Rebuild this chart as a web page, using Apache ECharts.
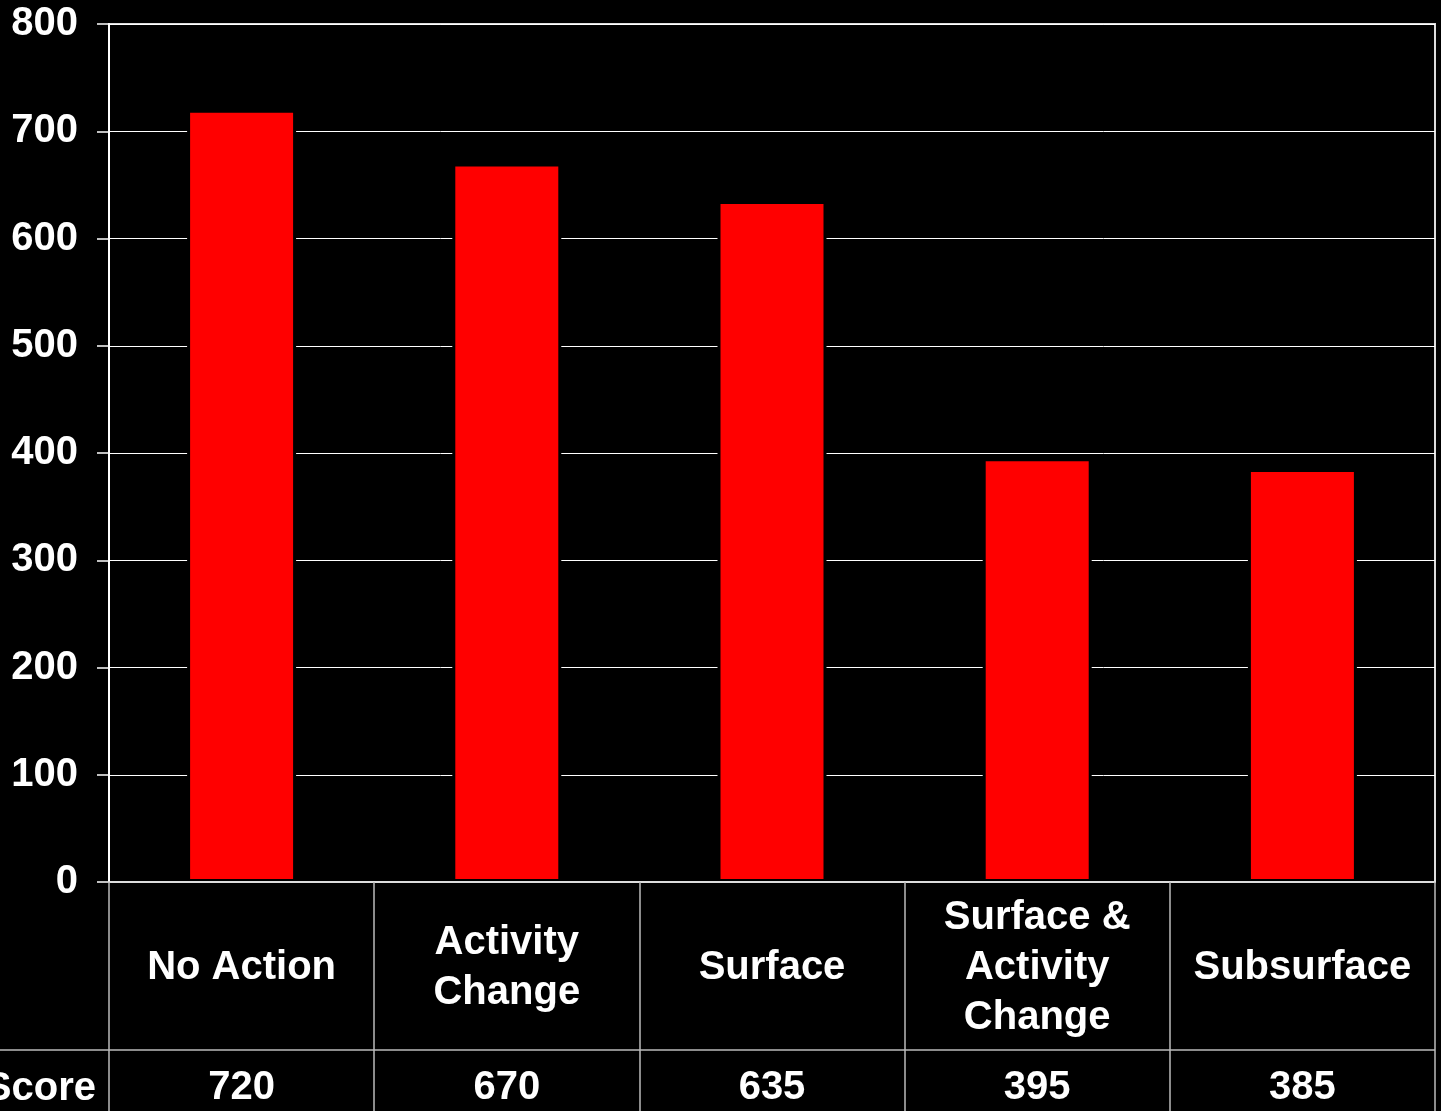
<!DOCTYPE html>
<html>
<head>
<meta charset="utf-8">
<script src="https://cdn.jsdelivr.net/npm/echarts@6/dist/echarts.min.js"></script>
<style>
  html, body { margin: 0; padding: 0; background: #000; }
  #main { width: 1441px; height: 1111px; }
</style>
</head>
<body>
<div id="main"></div>
<script>
var categories = ['No Action', 'Activity\nChange', 'Surface', 'Surface &\nActivity\nChange', 'Subsurface'];
var scores = [720, 670, 635, 395, 385];
var yTicks = [0, 100, 200, 300, 400, 500, 600, 700, 800];

var font = '"Liberation Sans", Arial, sans-serif';
var gridLeft = 109, gridTop = 24, gridRight = 6, gridBottom = 229;
var rowSplit = 1050; // line between name row and score row

var chart = echarts.init(document.getElementById('main'));
chart.setOption({
  backgroundColor: '#000',
  animation: false,
  grid: {
    left: gridLeft, top: gridTop, right: gridRight, bottom: gridBottom,
    show: true, borderColor: '#ddd', borderWidth: 2
  },
  xAxis: [
    {
      type: 'category',
      data: categories,
      z: 5,
      axisLine: { lineStyle: { color: '#ddd', width: 2 } },
      axisTick: { show: true, length: gridBottom, lineStyle: { color: '#bbb', width: 1.5 } },
      axisLabel: {
        color: '#fff', fontFamily: font, fontWeight: 'bold', fontSize: 40,
        lineHeight: 50, margin: 86, verticalAlign: 'middle', interval: 0
      }
    },
    {
      type: 'category',
      position: 'bottom',
      data: scores.map(String),
      axisLine: { show: false },
      axisTick: { show: false },
      axisLabel: {
        color: '#fff', fontFamily: font, fontWeight: 'bold', fontSize: 40,
        margin: 206, verticalAlign: 'middle', interval: 0
      }
    }
  ],
  yAxis: {
    type: 'value',
    min: yTicks[0],
    max: yTicks[yTicks.length - 1],
    interval: 100,
    axisLine: { show: true, lineStyle: { color: '#fff', width: 2 } },
    axisTick: { show: true, length: 12, lineStyle: { color: '#fff', width: 1.5 } },
    splitLine: { lineStyle: { color: '#fff', width: 1 } },
    axisLabel: {
      color: '#fff', fontFamily: font, fontWeight: 'bold', fontSize: 40, margin: 31,
      padding: [6, 0, 0, 0]
    }
  },
  series: [{
    type: 'bar',
    data: scores,
    barWidth: 109,
    itemStyle: { color: '#ff0000', borderColor: '#000', borderWidth: 3 }
  }],
  graphic: [
    {
      type: 'line',
      shape: { x1: 0, y1: rowSplit, x2: 1441 - gridRight, y2: rowSplit },
      style: { stroke: '#bbb', lineWidth: 1.5 }
    },
    {
      type: 'text',
      x: 96, y: 1089,
      style: {
        text: 'Score', fill: '#fff', font: 'bold 40px ' + font,
        textAlign: 'right', textVerticalAlign: 'middle'
      }
    }
  ]
});
</script>
</body>
</html>
